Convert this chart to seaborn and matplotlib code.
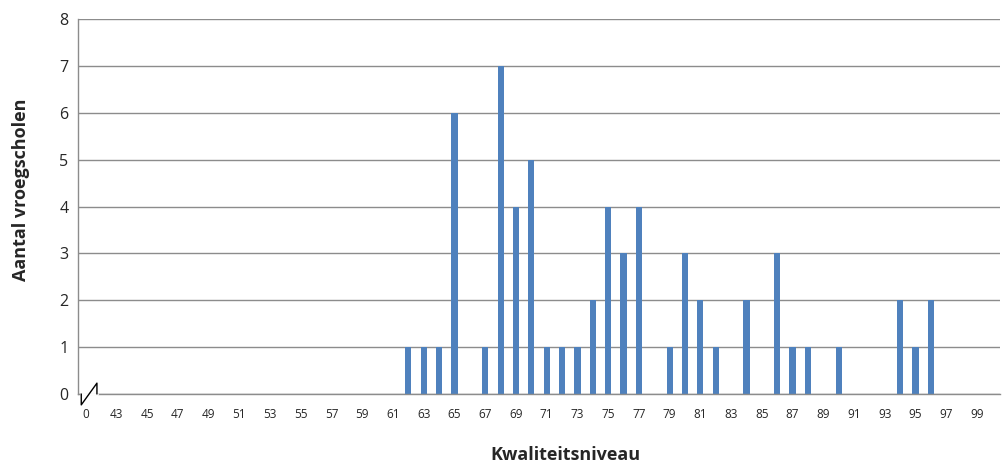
import matplotlib
matplotlib.use("Agg")
import matplotlib.pyplot as plt
import seaborn as sns
import pandas as pd
import numpy as np

# categories on the x axis: "0" followed by the levels 42..100
levels = ["0"] + [str(v) for v in range(42, 101)]
# number of schools per level
counts = [0,
          0, 0, 0, 0, 0, 0, 0, 0, 0, 0,   # 42-51
          0, 0, 0, 0, 0, 0, 0, 0, 0, 0,   # 52-61
          1, 1, 1, 6, 0, 1, 7, 4, 5, 1,   # 62-71
          1, 1, 2, 4, 3, 4, 0, 1, 3, 2,   # 72-81
          1, 0, 2, 0, 3, 1, 1, 0, 1, 0,   # 82-91
          0, 0, 2, 1, 2, 0, 0, 0, 0]      # 92-100
y_ticks = [0, 1, 2, 3, 4, 5, 6, 7, 8]

df = pd.DataFrame({"niveau": levels, "aantal": counts})

sns.set_style("white")
plt.rcParams['font.family'] = ['Open Sans', 'DejaVu Sans']

fig = plt.figure(figsize=(10.03, 4.66), dpi=100)
ax = fig.add_axes([0.0778, 0.1545, 0.9192, 0.8045])
ax.set_axisbelow(True)

sns.barplot(data=df, x="niveau", y="aantal", order=levels, color="#4F81BD",
            width=0.4, saturation=1, linewidth=0, ax=ax)

n = len(levels)
ax.set_xlim(-0.5, n - 0.5)
ax.set_ylim(0, 8)
ax.set_yticks(y_ticks)
ax.yaxis.grid(True, color="#8C8C8C", linewidth=1)
ax.tick_params(axis="y", labelsize=11.5, length=4, color="#8C8C8C", pad=3)

# labels on every other category, tick marks between categories
ax.set_xticks(range(0, n, 2))
ax.set_xticklabels(levels[0::2], fontsize=8.5)
ax.set_xticks(np.arange(-0.5, n, 1), minor=True)
ax.tick_params(axis="x", which="major", length=0, pad=10)
ax.tick_params(axis="x", which="minor", length=4, color="#8C8C8C", direction="out")

for side in ["top", "right"]:
    ax.spines[side].set_visible(False)
for side in ["left", "bottom"]:
    ax.spines[side].set_color("#8C8C8C")
    ax.spines[side].set_linewidth(1)

ax.set_xlabel("Kwaliteitsniveau", fontsize=13, fontweight="bold")
ax.set_ylabel("Aantal vroegscholen", fontsize=13, fontweight="bold")
ax.xaxis.set_label_coords(0.529, -0.14)
ax.yaxis.set_label_coords(-0.052, 0.545)

# broken-axis marker at the origin
ax.plot([0.0035, 0.0205], [0, 0], transform=ax.transAxes, color="white",
        linewidth=2, clip_on=False, zorder=5)
ax.plot([0.0035, 0.0035, 0.0205, 0.0205], [0, -0.029, 0.029, 0],
        transform=ax.transAxes, color="black", linewidth=1, clip_on=False, zorder=6)

fig.savefig("out.png", dpi=100)
